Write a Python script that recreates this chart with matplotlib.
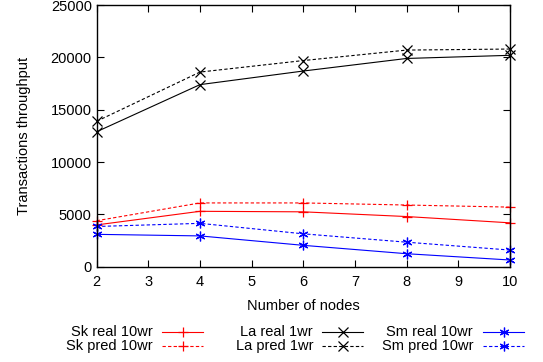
import matplotlib
matplotlib.use("Agg")
import matplotlib.pyplot as plt
from matplotlib.lines import Line2D

plt.rcParams['font.family'] = ['Liberation Sans', 'DejaVu Sans']

nodes = [2, 4, 6, 8, 10]
sk_real = [4000, 5300, 5250, 4800, 4200]
sk_pred = [4400, 6100, 6100, 5900, 5700]
la_real = [12900, 17400, 18700, 19900, 20200]
la_pred = [13900, 18600, 19700, 20700, 20800]
sm_real = [3100, 2950, 2050, 1250, 650]
sm_pred = [3850, 4150, 3150, 2350, 1600]

labels = ["Sk real 10wr", "Sk pred 10wr", "La real 1wr", "La pred 1wr",
          "Sm real 10wr", "Sm pred 10wr"]
series = [sk_real, sk_pred, la_real, la_pred, sm_real, sm_pred]
colors = ["red", "red", "black", "black", "blue", "blue"]
markers = ["+", "+", "x", "x", (6, 2, 0), (6, 2, 0)]
styles = ["-", (0, (3, 2)), "-", (0, (3, 2)), "-", (0, (3, 2))]

fig = plt.figure(figsize=(5.43, 3.62), dpi=100)
ax = fig.add_axes([0.178, 0.263, 0.761, 0.723])

for y, c, m, ls in zip(series, colors, markers, styles):
    ax.plot(nodes, y, color=c, marker=m, linestyle=ls, linewidth=0.8,
            markersize=7, markeredgewidth=0.9, clip_on=False)

ax.set_xlim(2, 10)
ax.set_ylim(0, 25000)
ax.set_xticks(range(2, 11))
ax.set_yticks(range(0, 25001, 5000))
ax.tick_params(direction='in', top=True, right=True, labelsize=10.5,
               length=5, width=0.8)
ax.tick_params(axis='x', pad=6)
for s in ax.spines.values():
    s.set_linewidth(1.0)
ax.set_xlabel("Number of nodes", fontsize=10.5, labelpad=7)
ax.set_ylabel("Transactions throughput", fontsize=10.5, labelpad=14)

# legend, gnuplot style: right-aligned text followed by sample
col_text_x = [153, 313, 473]
col_line = [(162, 203), (322, 363), (483, 524)]
row_y = [332, 346]
W, H = 543, 362
for i, (lab, c, m, ls) in enumerate(zip(labels, colors, markers, styles)):
    col, row = i // 2, i % 2
    yf = 1 - row_y[row] / H
    fig.text(col_text_x[col] / W, yf, lab, ha='right', va='center', fontsize=10.5)
    x0, x1 = col_line[col]
    fig.add_artist(Line2D([x0 / W, x1 / W], [yf, yf], transform=fig.transFigure,
                          color=c, linestyle=ls, linewidth=0.8))
    fig.add_artist(Line2D([(x0 + x1) / 2 / W], [yf], transform=fig.transFigure,
                          color=c, marker=m, markersize=7, markeredgewidth=0.9,
                          linestyle='none'))

fig.savefig("out.png", dpi=100)
